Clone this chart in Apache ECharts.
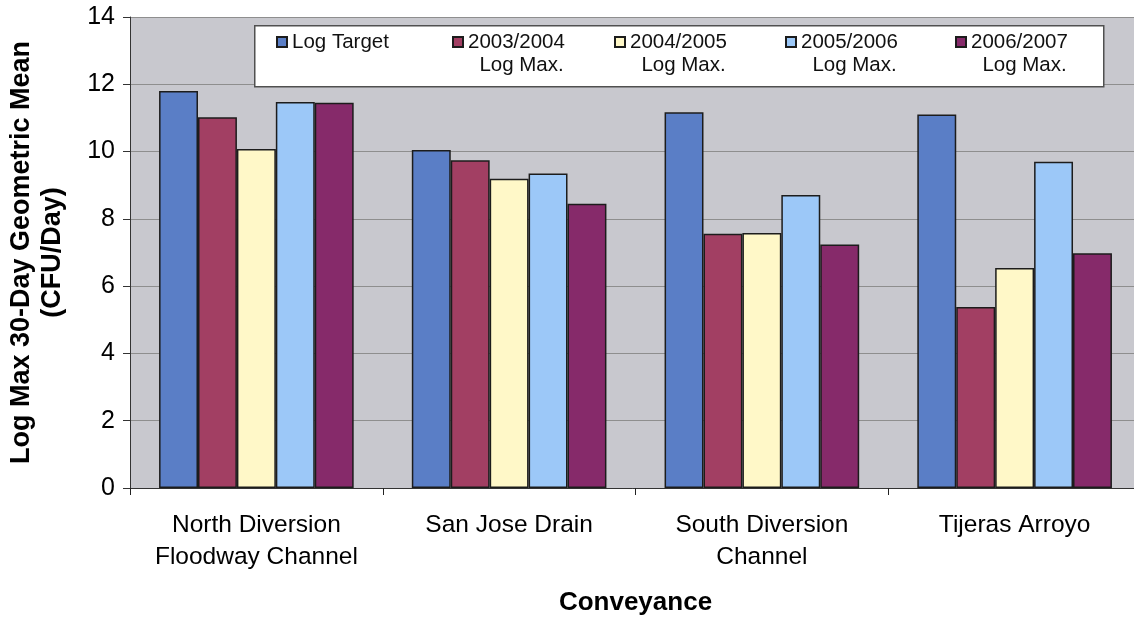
<!DOCTYPE html>
<html>
<head>
<meta charset="utf-8">
<script src="https://cdn.jsdelivr.net/npm/echarts@6/dist/echarts.min.js"></script>
<style>
  html, body { margin: 0; padding: 0; background: #ffffff; }
  #chart { width: 1134px; height: 617px; }
</style>
</head>
<body>
<div id="chart"></div>
<script>
// Conveyances along the x axis
const categories = [
  'North Diversion\nFloodway Channel',
  'San Jose Drain',
  'South Diversion\nChannel',
  'Tijeras Arroyo'
];

// Log max 30-day geometric mean (CFU/day) per season
const logTarget = [11.8, 10.05, 11.17, 11.1];
const max2003_2004 = [11.02, 9.74, 7.56, 5.38];
const max2004_2005 = [10.08, 9.19, 7.58, 6.54];
const max2005_2006 = [11.47, 9.35, 8.71, 9.7];
const max2006_2007 = [11.45, 8.45, 7.24, 6.98];

const seriesNames = ['Log Target', '2003/2004 Log Max.', '2004/2005 Log Max.', '2005/2006 Log Max.', '2006/2007 Log Max.'];
const yTicks = { min: 0, max: 14, interval: 2 };

const seriesValues = [logTarget, max2003_2004, max2004_2005, max2005_2006, max2006_2007];
const seriesColors = ['#5a7ec6', '#a23f63', '#fff8c8', '#9cc8f8', '#862a6a'];

const FONT = '"Liberation Sans", Arial, Helvetica, sans-serif';
const chart = echarts.init(document.getElementById('chart'), null, { renderer: 'canvas' });

// One legend block per entry, laid out left to right inside a framed box
const legendLefts = [276, 452, 614, 785, 955];
const legendLineH = 23;
const markerCenterY = 42;
const legends = seriesNames.map((name, i) => {
  const twoLine = name.indexOf(' Log Max.') > 0;
  return {
    show: true,
    data: [name],
    left: legendLefts[i],
    top: twoLine ? markerCenterY - 1.5 * legendLineH : markerCenterY - 0.5 * legendLineH,
    padding: 0,
    itemWidth: 10,
    itemHeight: 10,
    icon: 'rect',
    selectedMode: false,
    z: 10,
    formatter: (n) => twoLine ? '\n' + n.replace(' Log Max.', '') + '\n  Log Max.' : n,
    textStyle: { fontFamily: FONT, fontSize: 20.5, lineHeight: legendLineH, color: '#111111' }
  };
});

const option = {
  backgroundColor: '#ffffff',
  animation: false,
  textStyle: { fontFamily: FONT },
  grid: {
    left: 130, top: 17, width: 1011, height: 471,
    outerBoundsMode: 'none',
    containLabel: false,
    show: true, backgroundColor: '#c8c8ce', borderWidth: 0
  },
  legend: legends,
  graphic: [{
    type: 'rect', left: 254, top: 25, z: 5,
    shape: { width: 849, height: 61 },
    style: { fill: '#ffffff', stroke: '#505050', lineWidth: 1.5 }
  }],
  xAxis: {
    type: 'category',
    data: categories,
    name: 'Conveyance',
    nameLocation: 'middle',
    nameGap: 100,
    nameTextStyle: { fontFamily: FONT, fontSize: 26, fontWeight: 'bold', color: '#000000', lineHeight: 30 },
    axisLine: { lineStyle: { color: '#333333', width: 1 } },
    axisTick: { show: true, length: 7, alignWithLabel: false, lineStyle: { color: '#222222' } },
    axisLabel: { fontFamily: FONT, fontSize: 24.5, lineHeight: 32, color: '#000000', margin: 21, interval: 0 },
    splitLine: { show: false }
  },
  yAxis: {
    type: 'value',
    min: yTicks.min, max: yTicks.max, interval: yTicks.interval,
    name: 'Log Max 30-Day Geometric Mean\n(CFU/Day)',
    nameLocation: 'middle',
    nameRotate: 90,
    nameGap: 62,
    nameTextStyle: { fontFamily: FONT, fontSize: 27, fontWeight: 'bold', color: '#000000', lineHeight: 31 },
    axisLine: { show: true, lineStyle: { color: '#333333', width: 1 } },
    axisTick: { show: true, length: 7, lineStyle: { color: '#333333' } },
    axisLabel: { fontFamily: FONT, fontSize: 25, color: '#000000', margin: 15 },
    splitLine: { show: true, lineStyle: { color: '#8e8e8e', width: 1.2 } }
  },
  series: seriesNames.map((name, i) => ({
    name: name,
    type: 'bar',
    data: seriesValues[i],
    barGap: '0%',
    barCategoryGap: '23%',
    itemStyle: { color: seriesColors[i], borderColor: '#1c1c1c', borderWidth: 1.5 },
    emphasis: { disabled: true }
  }))
};

chart.setOption(option);
</script>
</body>
</html>
